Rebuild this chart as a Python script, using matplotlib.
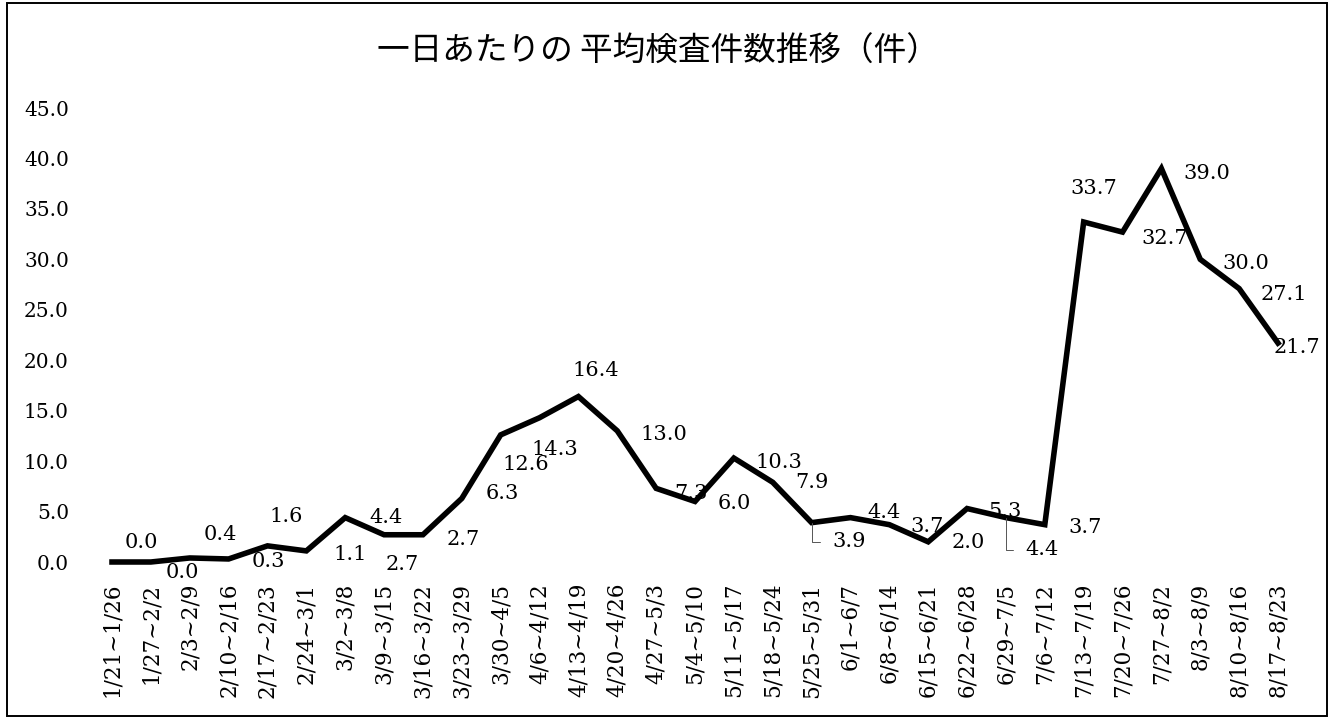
import matplotlib.pyplot as plt
from matplotlib.patches import Rectangle

weeks = ['1/21~1/26', '1/27~2/2', '2/3~2/9', '2/10~2/16', '2/17~2/23', '2/24~3/1',
         '3/2~3/8', '3/9~3/15', '3/16~3/22', '3/23~3/29', '3/30~4/5', '4/6~4/12',
         '4/13~4/19', '4/20~4/26', '4/27~5/3', '5/4~5/10', '5/11~5/17', '5/18~5/24',
         '5/25~5/31', '6/1~6/7', '6/8~6/14', '6/15~6/21', '6/22~6/28', '6/29~7/5',
         '7/6~7/12', '7/13~7/19', '7/20~7/26', '7/27~8/2', '8/3~8/9', '8/10~8/16',
         '8/17~8/23']
avg_tests = [0.0, 0.0, 0.4, 0.3, 1.6, 1.1, 4.4, 2.7, 2.7, 6.3, 12.6, 14.3, 16.4,
             13.0, 7.3, 6.0, 10.3, 7.9, 3.9, 4.4, 3.7, 2.0, 5.3, 4.4, 3.7, 33.7,
             32.7, 39.0, 30.0, 27.1, 21.7]
y_ticks = [0, 5, 10, 15, 20, 25, 30, 35, 40, 45]

# label offsets in pixels (dx right, dy down), hand placed like the original
label_off = [(29, -20), (32, 10), (31, -23), (40, 3), (19, -29), (44, 4), (41, 0),
             (18, 30), (40, 5), (41, -5), (25, 30), (15, 32), (17, -26), (47, 4),
             (35, 5), (39, 2), (45, 4), (39, 0), (38, 19), (34, -5), (38, 2),
             (40, 1), (38, 3), (36, 32), (40, 3), (10, -34), (42, 6), (45, 5),
             (46, 4), (45, 6), (19, 4)]
leader = [18, 23]

W, H = 1332, 719
fig = plt.figure(figsize=(W / 100, H / 100), dpi=100)
fig.patches.append(Rectangle((7 / W, 3 / H), 1320 / W, 713 / H, transform=fig.transFigure,
                             fill=False, edgecolor='black', linewidth=1.4))

ax = fig.add_axes([112 / W, (H - 562) / H, (1278 - 112) / W, (562 - 108) / H])
x = list(range(len(weeks)))
ax.plot(x, avg_tests, color='black', linewidth=4, clip_on=False, solid_joinstyle='miter')

num_font = 'DejaVu Serif'
for i, v in enumerate(avg_tests):
    dx, dy = label_off[i]
    props = None
    if i in leader:
        props = dict(arrowstyle='-', color='#555555', linewidth=0.7,
                     connectionstyle='angle,angleA=0,angleB=90,rad=0', shrinkA=7, shrinkB=0)
    ax.annotate(f'{v:.1f}', (i, v), xytext=(dx, -dy), textcoords='offset pixels',
                ha='center', va='center', fontsize=15, family=num_font,
                arrowprops=props, annotation_clip=False)

ax.set_xlim(0, len(weeks) - 1)
ax.set_ylim(0, 45)
ax.set_xticks(x)
ax.set_xticklabels(weeks, rotation=90, family=num_font, fontsize=15.5)
ax.set_yticks(y_ticks)
ax.set_yticklabels([f'{t:.1f}' for t in y_ticks], family=num_font, fontsize=14.5)
ax.tick_params(axis='both', length=0)
ax.tick_params(axis='y', pad=31)
ax.tick_params(axis='x', pad=15)
for s in ax.spines.values():
    s.set_visible(False)

fig.text(0.494, 1 - 52 / H, '一日あたりの 平均検査件数推移（件）', ha='center', va='center',
         fontsize=23.5, family=['Noto Sans CJK JP', 'DejaVu Sans'])

fig.savefig('out.png', dpi=100)
